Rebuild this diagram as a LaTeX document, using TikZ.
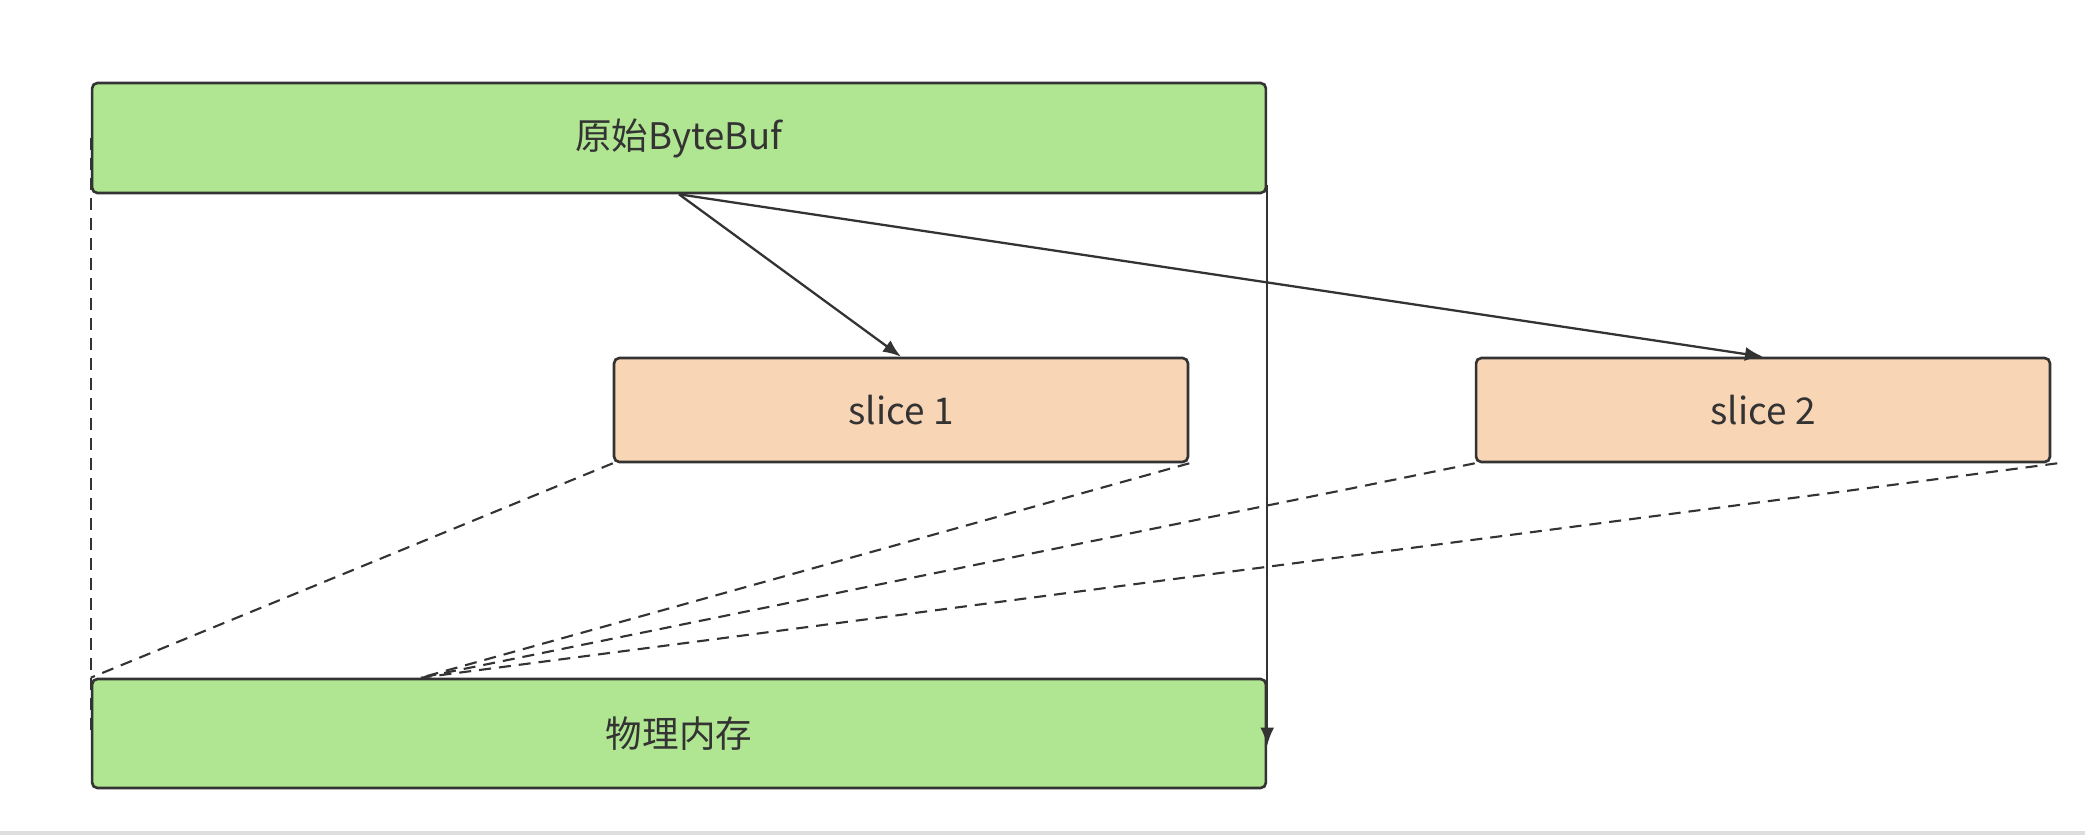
\documentclass[tikz,border=0pt]{standalone}
\usepackage{fontspec}
\setmainfont{Noto Sans CJK SC}
\usetikzlibrary{arrows.meta,positioning,calc}
\definecolor{zold}{HTML}{B0E591}
\definecolor{barack}{HTML}{F7D5B5}
\definecolor{sotet}{HTML}{333333}
\tikzset{
  buf/.style={draw=sotet,line width=1.5pt,rounded corners=3pt,fill=zold,text=sotet,
              minimum width=23.48cm,minimum height=2.2cm,font=\fontsize{20.8}{25}\selectfont},
  szelet/.style={buf,fill=barack,minimum width=11.48cm,minimum height=2.08cm,
                 font=\fontsize{21}{25}\selectfont},
  nyil/.style={-{Latex[length=3.6mm,width=2.8mm]},draw=sotet,line width=1.3pt},
  szagg/.style={draw=sotet,line width=1.2pt,dash pattern=on 2.4mm off 1.6mm},
}
\begin{document}
\begin{tikzpicture}[x=0.02cm,y=-0.02cm]
  \useasboundingbox (0,0) rectangle (2085,835);
  \node[buf] (orig) at (679,138) {原始ByteBuf};
  \node[szelet] (s1) at (901,410) {slice 1};
  \node[szelet] (s2) at (1763,410) {slice 2};
  \node[buf,minimum height=2.18cm] (mem) at (679,733.5) {物理内存};
  \coordinate (hit) at ($(mem.north west)+(330,0)$);
  \draw[nyil] (orig.south) -- (s1.north);
  \draw[nyil] (orig.south) -- (s2.north);
  \draw[nyil] ([yshift=0.18cm]orig.south east) -- ([yshift=-0.24cm]mem.east);
  \draw[szagg] (orig.west) -- (mem.west);
  \draw[szagg] (s1.south west) -- (mem.north west);
  \draw[szagg] (s1.south east) -- (hit);
  \draw[szagg] (s2.south west) -- (hit);
  \draw[szagg] ([xshift=0.12cm]s2.south east) -- (hit);
  \draw[black!13,line width=2pt] (0,833) -- (2085,833);
\end{tikzpicture}
\end{document}
